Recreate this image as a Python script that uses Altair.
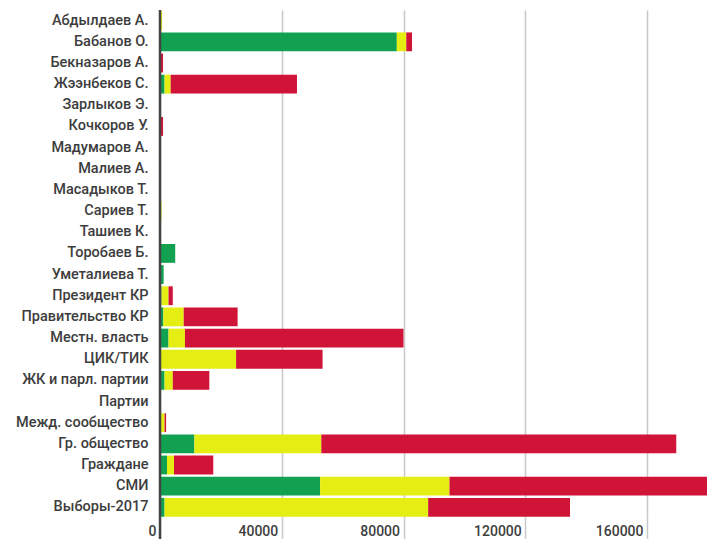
import altair as alt
import pandas as pd

categories = [
    "Абдылдаев А.", "Бабанов О.", "Бекназаров А.", "Жээнбеков С.", "Зарлыков Э.",
    "Кочкоров У.", "Мадумаров А.", "Малиев А.", "Масадыков Т.", "Сариев Т.",
    "Ташиев К.", "Торобаев Б.", "Уметалиева Т.", "Президент КР", "Правительство КР",
    "Местн. власть", "ЦИК/ТИК", "ЖК и парл. партии", "Партии", "Межд. сообщество",
    "Гр. общество", "Граждане", "СМИ", "Выборы-2017",
]
green = [0, 77800, 0, 1500, 0, 0, 0, 0, 0, 0, 0, 5000, 1200, 500, 1100,
         2800, 300, 1500, 0, 0, 11300, 2300, 52600, 1500]
yellow = [700, 3100, 300, 2000, 0, 0, 0, 0, 0, 500, 0, 0, 0, 2300, 6700,
          5400, 24700, 2700, 0, 1500, 41700, 2300, 42500, 86600]
red = [0, 1900, 700, 41500, 0, 1000, 0, 0, 0, 0, 0, 0, 0, 1400, 17700,
       71800, 28400, 12000, 0, 500, 116600, 12900, 92900, 46600]

series = ["positive", "neutral", "negative"]
colors = ["#12a150", "#e5ee12", "#cf1438"]
x_ticks = [0, 40000, 80000, 120000, 160000]

rows = []
for i, c in enumerate(categories):
    for k, (name, vals) in enumerate(zip(series, [green, yellow, red])):
        rows.append({"cat": c, "series": name, "order": k, "value": vals[i]})
df = pd.DataFrame(rows)

W = 547
H = 508
XMAX = 179700
TICK = 21

x_enc = alt.X(
    "value:Q", stack="zero",
    scale=alt.Scale(domain=[0, XMAX], nice=False),
    axis=alt.Axis(
        values=x_ticks, format="d", title=None, grid=True,
        gridColor="#c8c8c8", gridWidth=1.5, domain=False,
        tickSize=TICK, tickColor="#c8c8c8", tickWidth=1.5,
        labelAlign="right", labelBaseline="top", labelPadding=-15, labelOffset=-4,
        labelFont="Roboto", labelFontSize=14, labelFontWeight=500, labelColor="#3d3d3d",
    ),
)

bars = alt.Chart(df).mark_bar(clip=True).encode(
    x=x_enc,
    y=alt.Y(
        "cat:N", sort=categories,
        scale=alt.Scale(paddingInner=0.11, paddingOuter=0.06),
        axis=alt.Axis(
            title=None, domain=False, ticks=False, labelPadding=12,
            labelFont="Roboto", labelFontSize=14.5, labelFontWeight=500,
            labelColor="#3d3d3d", labelLimit=200,
        ),
    ),
    color=alt.Color("series:N", scale=alt.Scale(domain=series, range=colors), legend=None),
    order=alt.Order("order:Q"),
)

zero = alt.Chart(pd.DataFrame({"x": [0]})).mark_rule(
    color="#444444", strokeWidth=2.5, clip=False
).encode(
    x="x:Q", y=alt.value(0), y2=alt.value(H + TICK)
)

chart = (bars + zero).properties(
    width=W, height=H, autosize="none",
    padding={"left": 152, "top": 2, "right": 0, "bottom": TICK},
).configure_view(stroke=None)

chart.save("out.html", embed_options={"renderer": "svg", "actions": False})
